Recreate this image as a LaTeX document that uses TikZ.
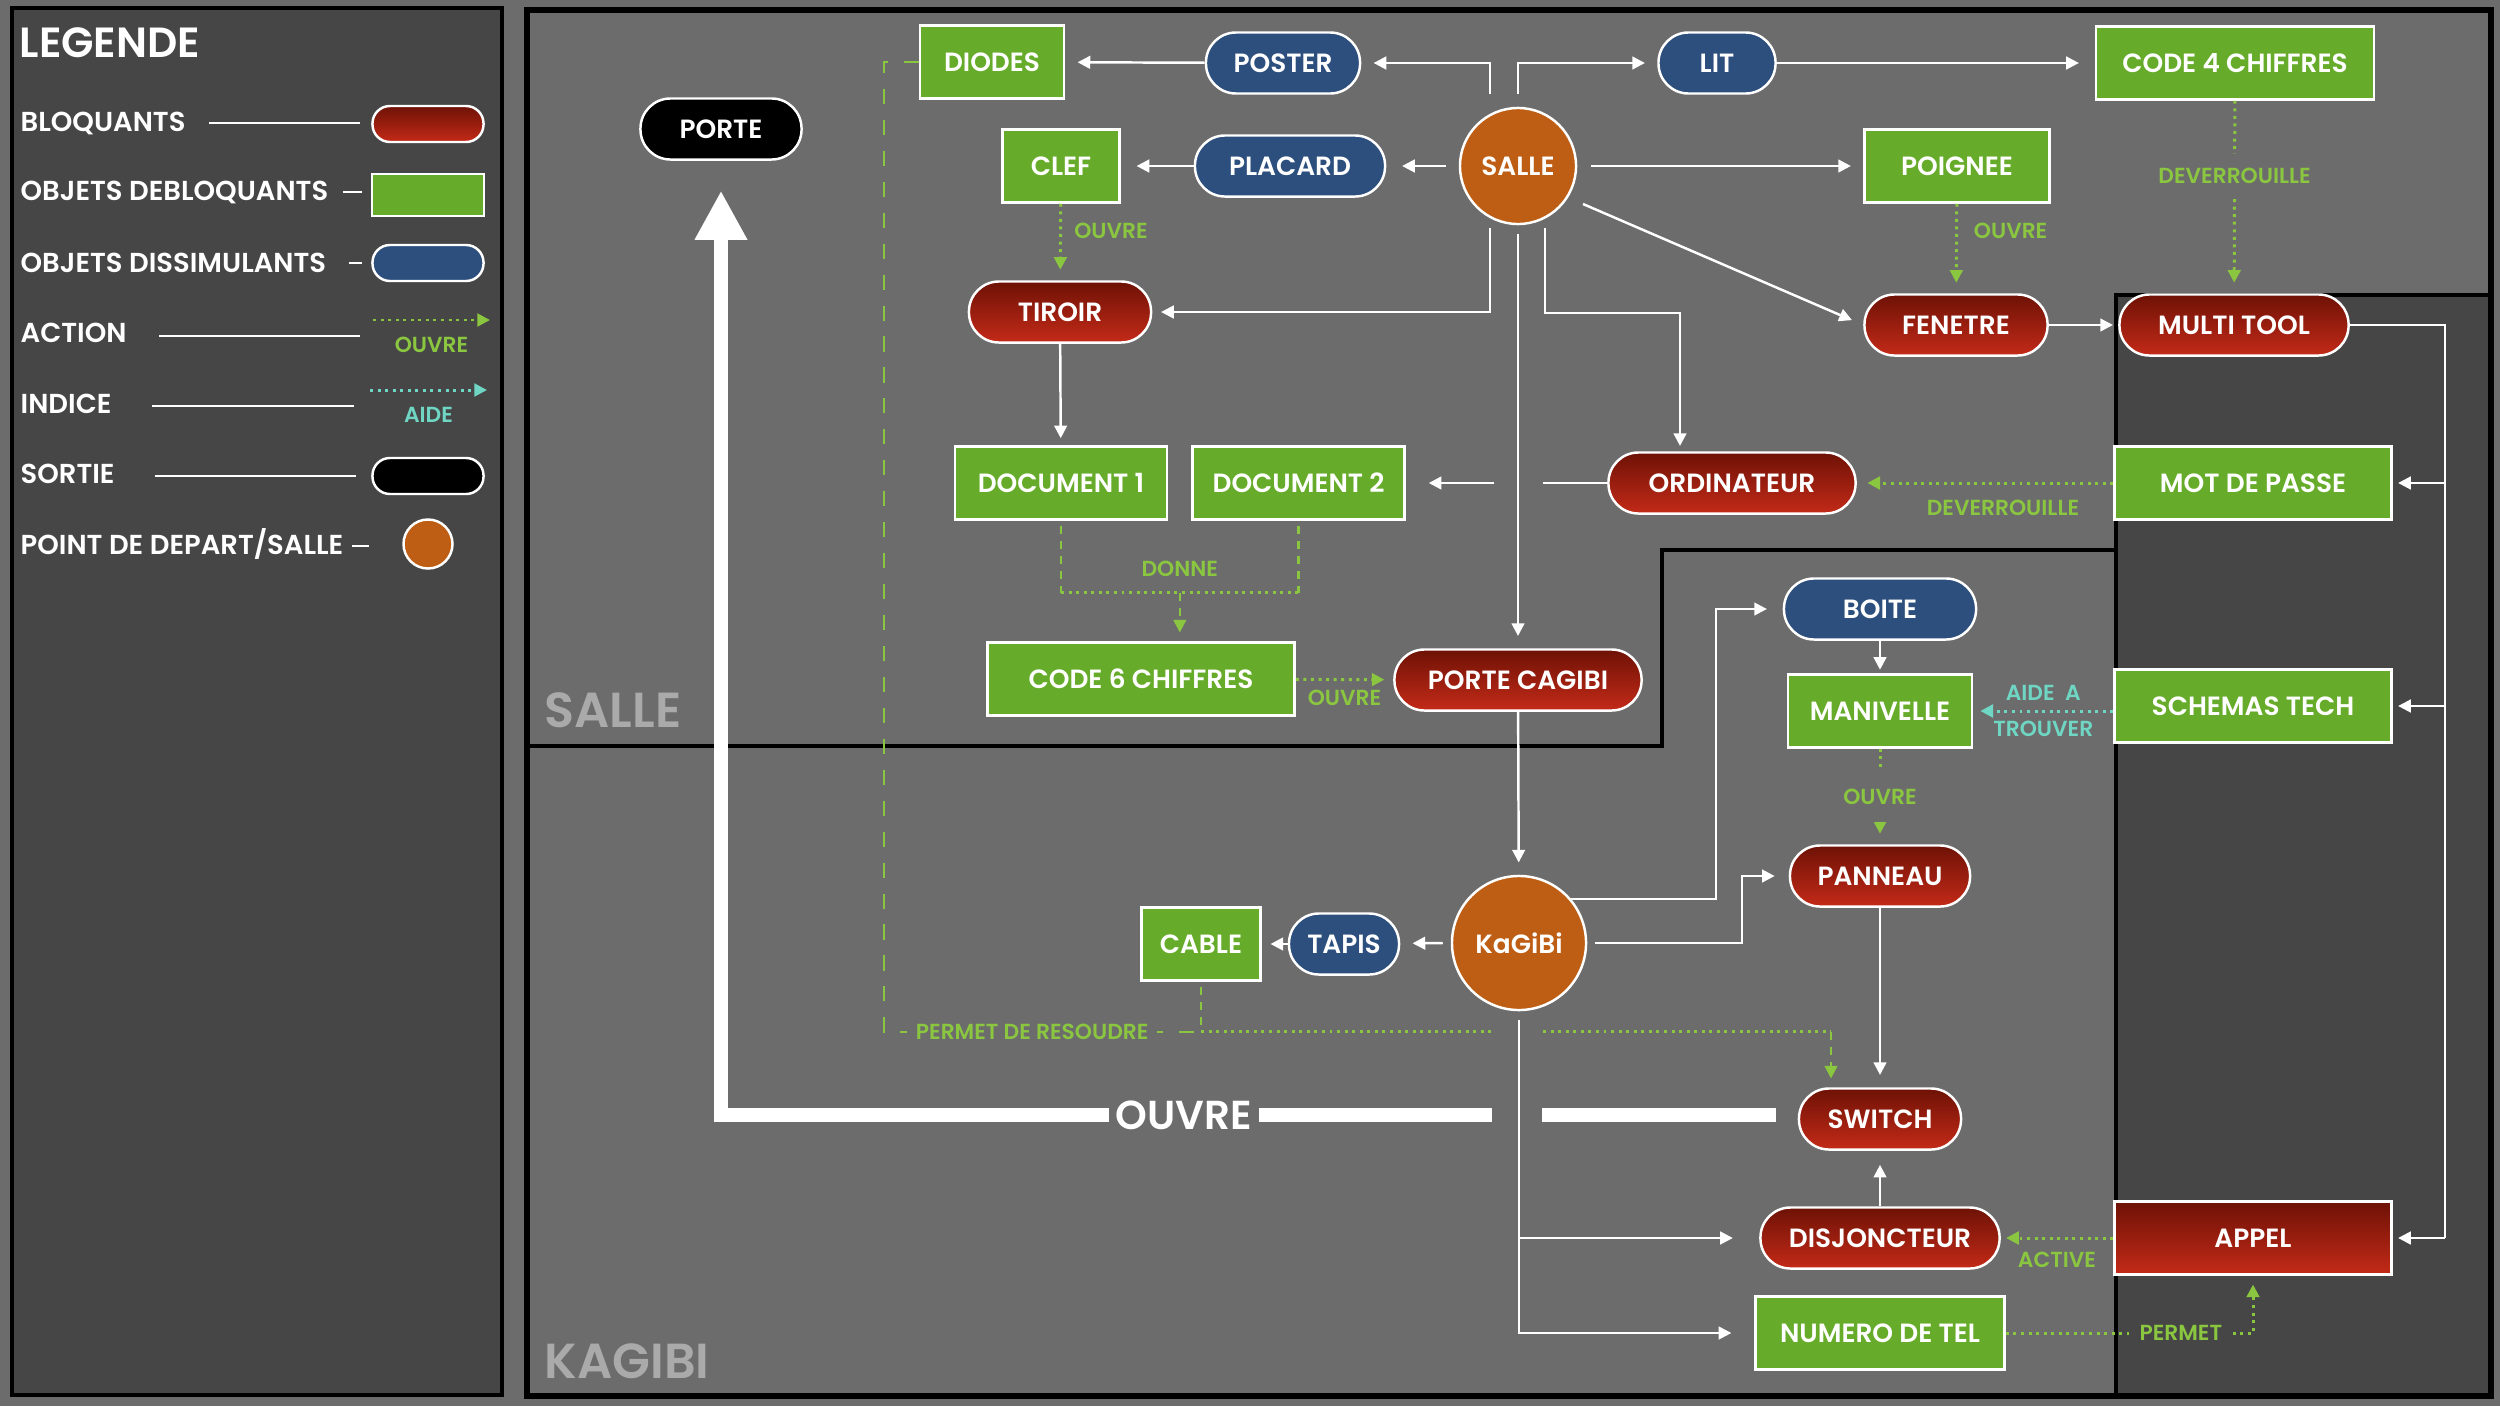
\documentclass[tikz,border=0pt]{standalone}
\usepackage{fontspec}
\setmainfont{Poppins}[BoldFont={Poppins SemiBold}]
\usetikzlibrary{arrows.meta,positioning,calc}

\definecolor{fond}{RGB}{108,108,108}
\definecolor{sombre}{RGB}{70,70,70}
\definecolor{vert}{RGB}{102,172,42}
\definecolor{vertclair}{RGB}{138,198,64}
\definecolor{bleu}{RGB}{44,79,126}
\definecolor{rougehaut}{RGB}{110,18,6}
\definecolor{rougebas}{RGB}{196,42,24}
\definecolor{orangesalle}{RGB}{190,94,20}
\definecolor{turquoise}{RGB}{112,214,196}
\definecolor{gristitre}{RGB}{170,170,170}

\begin{document}
\begin{tikzpicture}[
    x=0.01cm, y=-0.01cm,
    every node/.style={font=\bfseries\fontsize{7.5}{9}\selectfont, text=white},
    cadre/.style={draw=white, line width=0.7pt, inner sep=2pt},
    bloq/.style={cadre, rounded corners=3mm, top color=rougehaut, bottom color=rougebas, minimum height=6.1mm},
    debloq/.style={cadre, fill=vert, minimum height=7.3mm},
    cache/.style={cadre, rounded corners=3mm, fill=bleu, minimum height=6.1mm},
    sortie/.style={cadre, rounded corners=3mm, fill=black, minimum height=6.1mm},
    depart/.style={cadre, circle, fill=orangesalle, inner sep=0pt},
    ligne/.style={draw=white, line width=0.7pt},
    fleche/.style={ligne, -{Triangle[length=3.6pt,width=3.6pt]}, shorten >=3.5pt},
    action/.style={draw=vertclair, line width=0.85pt, dash pattern=on 0.85pt off 1.3pt, -{Triangle[length=3.6pt,width=3.6pt]}, shorten >=3pt},
    indice/.style={action, draw=turquoise},
    tiret/.style={draw=vertclair, line width=0.7pt, dash pattern=on 2.3pt off 2pt},
    pointille/.style={draw=vertclair, line width=0.85pt, dash pattern=on 0.85pt off 1.3pt},
    lien/.style={draw=vertclair, line width=0.7pt, dash pattern=on 4.3pt off 4.5pt},
    lbl/.style={font=\bfseries\fontsize{6.2}{7}\selectfont, text=vertclair, inner sep=1.5pt},
    gros/.style={draw=white, line width=4pt},
    zone/.style={font=\bfseries\fontsize{14}{16}\selectfont, text=gristitre, anchor=base west, inner sep=0pt},
    leg/.style={font=\bfseries\fontsize{7.8}{9}\selectfont, anchor=west, inner sep=0pt}
]
\useasboundingbox (0,0) rectangle (2500,1406);
\fill[fond] (0,0) rectangle (2500,1406);

% fonds
\draw[fill=sombre, line width=0.9pt] (12,8) rectangle (502,1395);
\fill[fond] (527,10) rectangle (2491,1396);
\draw[fill=sombre, line width=1.4pt] (2116,295) rectangle (2491,1396);
\draw[line width=1.4pt] (527,746) -- (1662,746) -- (1662,550) -- (2116,550);
\draw[line width=1.7pt] (527,10) rectangle (2491,1396);
\node[zone] (zsalle) at (544,727) {SALLE};
\node[zone] (zkagibi) at (544,1378) {KAGIBI};

% legende
\node[leg, font=\bfseries\fontsize{12}{14}\selectfont] (legende) at (19,43) {LEGENDE};
\node[leg] (tbloq) at (20,123) {BLOQUANTS};
\node[bloq, rounded corners=1.75mm, minimum width=1.11cm, minimum height=3.6mm] (sbloq) at (428,124) {};
\draw[ligne] ($(tbloq.east)+(23,0)$) -- ($(tbloq.east -| sbloq.west)+(-11,0)$);
\node[leg] (tdebloq) at (20,192) {OBJETS DEBLOQUANTS};
\node[debloq, minimum width=1.12cm, minimum height=4.2mm] (sdebloq) at (428,195) {};
\draw[ligne] ($(tdebloq.east)+(14,0)$) -- ($(tdebloq.east -| sdebloq.west)+(-9,0)$);
\node[leg] (tcache) at (20,263) {OBJETS DISSIMULANTS};
\node[cache, rounded corners=1.75mm, minimum width=1.11cm, minimum height=3.6mm] (scache) at (428,263) {};
\draw[ligne] ($(tcache.east)+(22,0)$) -- ($(tcache.east -| scache.west)+(-9,0)$);
\node[leg] (taction) at (20,333) {ACTION};
\coordinate (saction) at (373,320);
\coordinate (saction2) at (490,320);
\draw[action, shorten >=0pt] (saction) -- (saction2) node[lbl, midway, below=3pt] {OUVRE};
\draw[ligne] ($(taction.east)+(32,3)$) -- ($(taction.east -| saction)+(-13,3)$);
\node[leg] (tindice) at (20,404) {INDICE};
\coordinate (sindice) at (370,390);
\coordinate (sindice2) at (487,390);
\draw[indice, shorten >=0pt] (sindice) -- (sindice2) node[lbl, midway, below=3pt, text=turquoise] {AIDE};
\draw[ligne] ($(tindice.east)+(40,2)$) -- ($(tindice.east -| sindice)+(-16,2)$);
\node[leg] (tsortie) at (20,474) {SORTIE};
\node[sortie, rounded corners=1.75mm, minimum width=1.11cm, minimum height=3.6mm] (ssortie) at (428,476) {};
\draw[ligne] ($(tsortie.east)+(40,2)$) -- ($(tsortie.east -| ssortie.west)+(-15,2)$);
\node[leg] (tdepart) at (20,544) {POINT DE DEPART/SALLE};
\node[depart, minimum size=4.9mm] (sdepart) at (428,544) {};
\draw[ligne] ($(tdepart.east)+(8,2)$) -- ($(tdepart.east -| sdepart.west)+(-33,2)$);

% salle
\node[sortie, minimum width=1.61cm] (porte) at (721,129) {PORTE};
\node[debloq, minimum width=1.44cm] (diodes) at (992,62) {DIODES};
\node[cache, minimum width=1.54cm] (poster) at (1283,63) {POSTER};
\node[cache, minimum width=1.17cm] (lit) at (1717,63) {LIT};
\node[debloq, minimum width=2.78cm] (code4) at (2235,63) {CODE 4 CHIFFRES};
\node[debloq, minimum width=1.17cm] (clef) at (1061,166) {CLEF};
\node[cache, minimum width=1.90cm] (placard) at (1290,166) {PLACARD};
\node[depart, minimum size=1.16cm] (salle) at (1518,166) {SALLE};
\node[debloq, minimum width=1.85cm] (poignee) at (1957,166) {POIGNEE};
\node[bloq, minimum width=1.82cm] (tiroir) at (1060,312) {TIROIR};
\node[bloq, minimum width=1.83cm] (fenetre) at (1956,325) {FENETRE};
\node[bloq, minimum width=2.29cm] (multitool) at (2234,325) {MULTI TOOL};
\node[debloq, minimum width=2.12cm] (doc1) at (1061,483) {DOCUMENT 1};
\node[debloq, minimum width=2.12cm, right=2.3mm of doc1] (doc2) {DOCUMENT 2};
\node[bloq, minimum width=2.47cm] (ordinateur) at (1732,483) {ORDINATEUR};
\node[debloq, minimum width=2.77cm] (motdepasse) at (2253,483) {MOT DE PASSE};
\node[debloq, minimum width=3.07cm] (code6) at (1141,679) {CODE 6 CHIFFRES};
\node[bloq, minimum width=2.47cm] (portecagibi) at (1518,680) {PORTE CAGIBI};

% kagibi
\node[cache, minimum width=1.92cm] (boite) at (1880,609) {BOITE};
\node[debloq, minimum width=1.84cm] (manivelle) at (1880,711) {MANIVELLE};
\node[debloq, minimum width=2.77cm] (schemas) at (2253,706) {SCHEMAS TECH};
\node[bloq, minimum width=1.80cm] (panneau) at (1880,876) {PANNEAU};
\node[depart, minimum size=1.34cm] (kagibi) at (1519,943) {KaGiBi};
\node[cache, minimum width=1.10cm] (tapis) at (1344,944) {TAPIS};
\node[debloq, minimum width=1.19cm, left=2.6mm of tapis] (cable) {CABLE};
\node[bloq, minimum width=1.62cm] (switch) at (1880,1119) {SWITCH};
\node[bloq, minimum width=2.39cm] (disjoncteur) at (1880,1238) {DISJONCTEUR};
\node[bloq, sharp corners, minimum height=7.3mm, minimum width=2.77cm] (appel) at (2253,1238) {APPEL};
\node[debloq, minimum width=2.49cm] (numero) at (1880,1333) {NUMERO DE TEL};

% depuis la salle
\draw[fleche] ($(salle.center)+(-28,-72)$) |- (poster.east);
\draw[fleche] ($(salle.north)+(0,-13)$) |- (lit.west);
\draw[fleche, shorten >=4.5pt] (lit) -- (code4);
\draw[fleche] (poster) -- (diodes);
\draw[fleche, shorten >=4.5pt] ($(salle.west)+(-13,0)$) -- (placard);
\draw[fleche, shorten >=4.5pt] (placard) -- (clef);
\draw[fleche] ($(salle.east)+(14,0)$) -- (poignee);
\draw[fleche] ($(salle.center)+(65,38)$) -- (fenetre.west);
\draw[fleche, shorten >=1.5pt] (fenetre) -- (multitool);
\draw[fleche, shorten >=2.5pt] ($(salle.center)+(-28,62)$) |- (tiroir.east);
\draw[fleche] ($(salle.south)+(0,9)$) -- (portecagibi);
\draw[fleche, shorten >=1.5pt] ($(salle.center)+(27,62)$) -- ++(0,85) -| ($(ordinateur.north)+(-52,0)$);
\coordinate (pontD) at ($(salle.center |- ordinateur.west)+(25,0)$);
\coordinate (pontG) at ($(salle.center |- ordinateur.west)+(-24,0)$);
\draw[ligne] (ordinateur.west) -- (pontD);
\draw[fleche, shorten >=6.5pt] (pontG) -- (doc2.east);
\draw[fleche, shorten >=2pt] (tiroir) -- (doc1);
\draw[action] (clef) -- (tiroir) node[lbl, pos=0.35, right=2pt] {OUVRE};
\draw[action] (poignee) -- (fenetre) node[lbl, pos=0.3, right=3pt] {OUVRE};
\draw[action] (code4) -- (multitool) node[lbl, pos=0.39, fill=fond, inner ysep=4pt] {DEVERROUILLE};
\draw[action] (motdepasse) -- (ordinateur) node[lbl, pos=0.43, below=3pt] {DEVERROUILLE};

% documents
\coordinate (donne) at ($(doc1.south)!0.5!(doc2.south)+(0,72)$);
\draw[tiret] ($(doc1.south)+(0,5)$) -- (doc1.south |- donne);
\draw[tiret] ($(doc2.south)+(0,5)$) -- (doc2.south |- donne);
\draw[pointille] (doc1.south |- donne) -- (doc2.south |- donne);
\draw[tiret, -{Triangle[length=3.6pt,width=3.6pt]}, shorten >=2.5pt] (donne) -- (donne |- code6.north);
\node[lbl] (ldonne) at ($(donne)+(0,-24)$) {DONNE};
\draw[action, shorten >=2.5pt] (code6) -- (portecagibi) node[lbl, midway, below=1pt] {OUVRE};

% multi tool
\coordinate (bus) at ($(multitool.east)+(95,0)$);
\draw[ligne] (multitool.east) -| (bus |- appel.east);
\draw[fleche, shorten >=1.5pt] (bus |- motdepasse.east) -- (motdepasse.east);
\draw[fleche, shorten >=1.5pt] (bus |- schemas.east) -- (schemas.east);
\draw[fleche, shorten >=1.5pt] (bus |- appel.east) -- (appel.east);

% kagibi
\draw[fleche] (portecagibi) -- (kagibi);
\draw[fleche, shorten >=4.5pt] (kagibi.40) -| ($(boite.west)+(-67,0)$) -- (boite.west);
\draw[fleche, shorten >=4pt] ($(kagibi.east)+(8,0)$) -| ($(panneau.west)+(-47,0)$) -- (panneau.west);
\draw[fleche] ($(kagibi.west)+(-8,0)$) -- (tapis);
\draw[fleche, shorten >=2.5pt] (tapis) -- (cable);
\draw[fleche] (panneau) -- (switch);
\draw[fleche, shorten >=4pt] (disjoncteur) -- (switch);
\draw[fleche, shorten >=6.5pt] ($(kagibi.south)+(0,9)$) |- (numero.west);
\draw[fleche, shorten >=7.5pt] (kagibi.south |- disjoncteur.west) -- (disjoncteur.west);
\draw[fleche, shorten >=1pt] (boite) -- (manivelle);
\draw[action] (manivelle) -- (panneau) node[lbl, midway, fill=fond, inner ysep=5pt] {OUVRE};
\draw[indice, shorten >=2pt] (schemas.west |- manivelle.east) -- (manivelle.east)
    node[lbl, midway, above=1pt, text=turquoise] {AIDE\ \ A}
    node[lbl, midway, below=1pt, text=turquoise] {TROUVER};
\draw[action, shorten >=1.5pt] (appel) -- (disjoncteur) node[lbl, midway, below=2pt] {ACTIVE};
\draw[action, shorten >=2.5pt] (numero.east) -| (appel.south) node[lbl, pos=0.354, fill=sombre, inner xsep=3pt] {PERMET};

% cable et diodes vers le switch
\coordinate (jonction) at ($(cable.south)+(0,50)$);
\coordinate (coudeS) at ($(switch.north |- jonction)+(-49,0)$);
\draw[tiret] ($(cable.south)+(0,5)$) -- (jonction);
\draw[pointille] (jonction) -- ($(kagibi.center |- jonction)+(-26,0)$);
\draw[pointille] ($(kagibi.center |- jonction)+(24,0)$) -- (coudeS);
\draw[tiret, -{Triangle[length=3.6pt,width=3.6pt]}, shorten >=2.5pt] (coudeS) -- ($(switch.north)+(-49,0)$);
\draw[lien] (diodes.west) -- ++(-35,0) |- (jonction) node[lbl, pos=0.734, fill=fond, inner xsep=2.5pt] {PERMET DE RESOUDRE};

% sortie
\draw[gros] ($(switch.west)+(-22,-4)$) -- ($(kagibi.center |- switch.west)+(23,-4)$);
\draw[gros, -{Triangle[length=14pt,width=14pt]}, shorten >=8.5pt] ($(kagibi.center |- switch.west)+(-27,-4)$) -| (porte.south)
    node[pos=0.2, fill=fond, inner xsep=2pt, inner ysep=0pt, font=\bfseries\fontsize{11.5}{13}\selectfont] (ouvre) {OUVRE};
\end{tikzpicture}
\end{document}
